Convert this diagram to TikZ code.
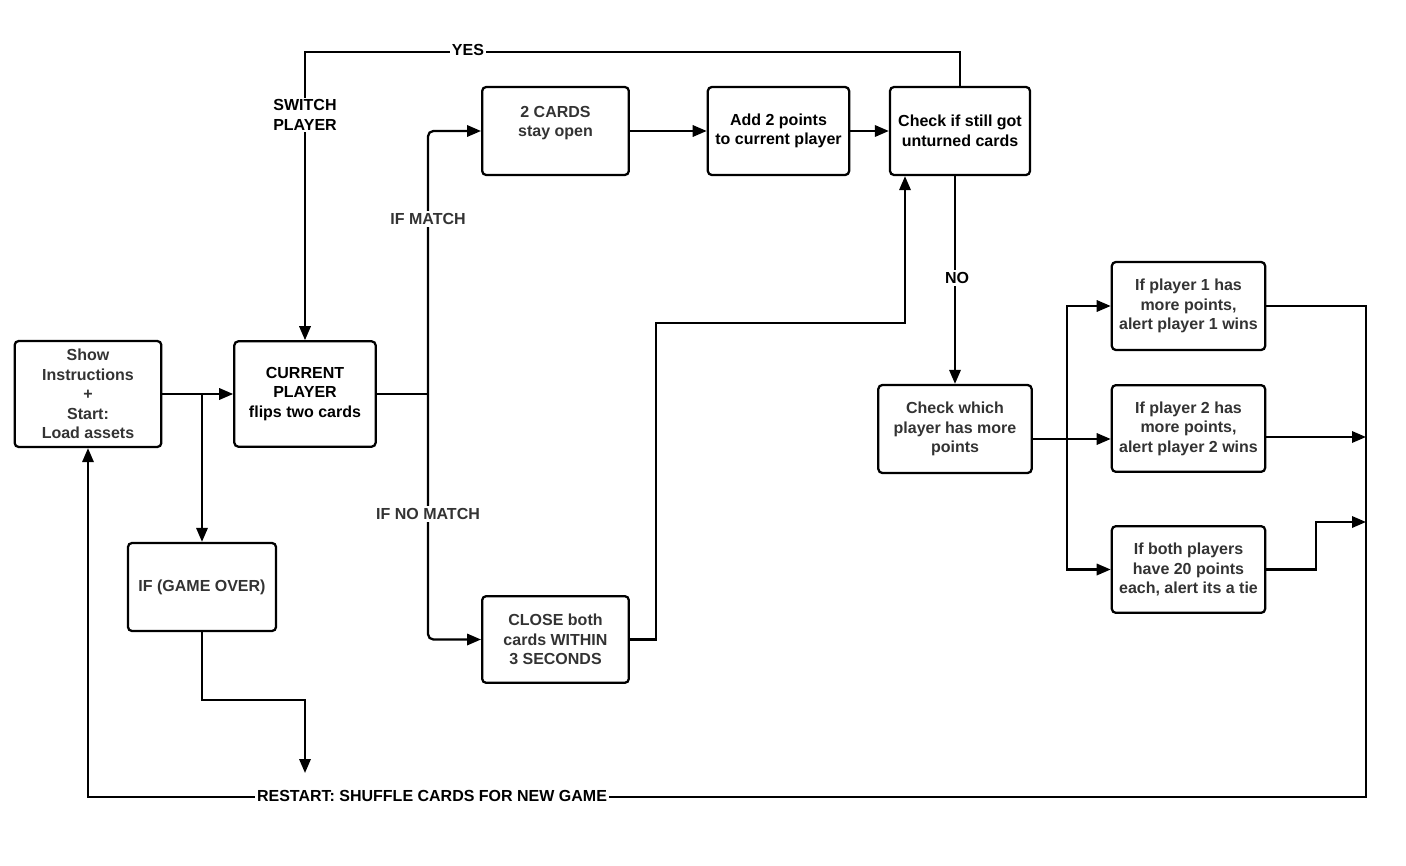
\documentclass[tikz,border=0pt]{standalone}
\usepackage{fontspec}
\setmainfont{Liberation Sans}
\usetikzlibrary{arrows.meta}
\definecolor{txtgray}{HTML}{333333}
\begin{document}
\begin{tikzpicture}[x=0.75pt,y=-0.75pt,
  box/.style={draw, line width=1.7pt, rounded corners=3pt, align=center,
    font=\bfseries\fontsize{12}{14.6}\selectfont, inner sep=0pt},
  flow/.style={line width=1.7pt, -{Triangle[length=10.5pt,width=8.5pt]}},
  wire/.style={line width=1.7pt},
  lbl/.style={fill=white, inner sep=1.5pt, align=center,
    font=\bfseries\fontsize{12}{14.6}\selectfont}
]
\useasboundingbox (0,0) rectangle (1406,866);

% boxes
\node[box, text=txtgray, minimum width=110pt, minimum height=79.5pt] (show) at (88,394)
  {Show\\Instructions\\+\\Start:\\Load assets};
\node[box, minimum width=106pt, minimum height=79pt] (cur) at (305,394)
  {CURRENT\\PLAYER\\flips two cards};
\node[box, text=txtgray, minimum width=111pt, minimum height=66pt] (over) at (202,587)
  {IF (GAME OVER)};
\node[box, text=txtgray, minimum width=110pt, minimum height=66pt] (cards) at (555.5,131)
  {2 CARDS\\stay open\\~};
\node[box, minimum width=106pt, minimum height=66pt] (add) at (778.5,131)
  {Add 2 points\\to current player};
\node[box, minimum width=105pt, minimum height=66pt] (check) at (960,131)
  {Check if still got\\unturned cards};
\node[box, text=txtgray, minimum width=110pt, minimum height=65pt] (close) at (555.5,639.5)
  {CLOSE both\\cards WITHIN\\3 SECONDS};
\node[box, text=txtgray, minimum width=115pt, minimum height=66pt] (which) at (955,429)
  {Check which\\player has more\\points};
\node[box, text=txtgray, minimum width=115pt, minimum height=66pt] (p1) at (1188.5,306)
  {If player 1 has\\more points,\\alert player 1 wins};
\node[box, text=txtgray, minimum width=115pt, minimum height=65pt] (p2) at (1188.5,428.5)
  {If player 2 has\\more points,\\alert player 2 wins};
\node[box, text=txtgray, minimum width=115pt, minimum height=65pt] (tie) at (1188.5,569.5)
  {If both players\\have 20 points\\each, alert its a tie};

% junctions and free ends
\coordinate (j1) at (202,394);
\coordinate (split) at (428,394);
\coordinate (ytop) at (305,52);
\coordinate (cb) at (656,323);
\coordinate (sp) at (1067,439);
\coordinate (rp2) at (1366,437);
\coordinate (rtie) at (1366,522);
\coordinate (br) at (1366,797);
\coordinate (bl) at (88,797);
\coordinate (gmid) at (305,700);
\coordinate (gend) at (305,773);

% connectors
\draw[flow] (show.east) -- (cur.west);
\draw[flow] (j1) -- (over.north);
\draw[wire] (cur.east) -- (split);
\draw[flow, rounded corners=4pt] (split) |- (cards.west);
\draw[flow, rounded corners=4pt] (split) |- (close.west);
\draw[flow] (cards.east) -- (add.west);
\draw[flow] (add.east) -- (check.west);
\draw[flow] (check.north) |- (ytop) -- (cur.north);
\draw[flow] (which.north |- check.south) -- (which.north);
\draw[flow] (close.east) -| (cb) -| ([xshift=-41.25pt]check.south);
\draw[wire] (which.east |- sp) -- (sp);
\draw[flow] (sp) -- (p2.west |- sp);
\draw[flow] (sp) |- (p1.west);
\draw[flow] (sp) |- (tie.west);
\draw[flow] (p2.east |- rp2) -- (rp2);
\draw[flow] (tie.east) -- ++(37.5pt,0) |- (rtie);
\draw[flow] (p1.east) -| (br) -- (bl) -- (show.south);
\draw[flow] (over.south) |- (gmid) -- (gend);

% connector labels
\node[lbl] (yes) at (468,50) {YES};
\node[lbl] (switch) at (305,115) {SWITCH\\PLAYER};
\node[lbl, text=txtgray] (ifm) at (428,219) {IF MATCH};
\node[lbl, text=txtgray] (ifnm) at (428,514) {IF NO MATCH};
\node[lbl] (no) at (957,278) {NO};
\node[lbl] (restart) at (432,796) {RESTART: SHUFFLE CARDS FOR NEW GAME};
\end{tikzpicture}
\end{document}
